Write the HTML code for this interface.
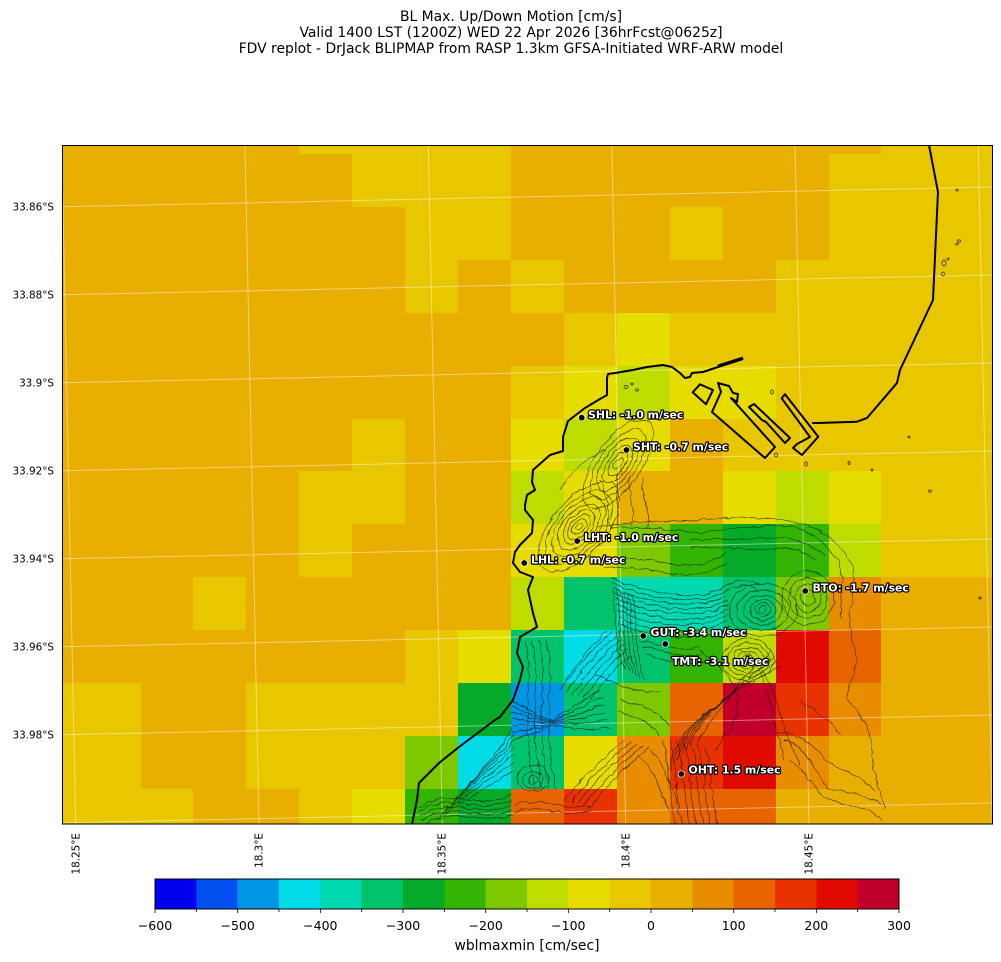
<!DOCTYPE html>
<html><head><meta charset="utf-8"><style>
html,body{margin:0;padding:0;background:#fff;}
svg{display:block;font-family:"DejaVu Sans","Liberation Sans",sans-serif;}
</style></head><body>
<svg width="1001" height="962" viewBox="0 0 1001 962" xmlns="http://www.w3.org/2000/svg">
<rect width="1001" height="962" fill="#fff"/>
<text x="511" y="21" font-size="13.9" text-anchor="middle">BL Max. Up/Down Motion [cm/s]</text>
<text x="511" y="37" font-size="13.9" text-anchor="middle">Valid 1400 LST (1200Z) WED 22 Apr 2026 [36hrFcst@0625z]</text>
<text x="511" y="53" font-size="13.9" text-anchor="middle">FDV replot - DrJack BLIPMAP from RASP 1.3km GFSA-Initiated WRF-ARW model</text>
<defs>
<clipPath id="cp"><rect x="62" y="145" width="930" height="679"/></clipPath>
<filter id="wig" filterUnits="userSpaceOnUse" x="62" y="145" width="930" height="679">
<feTurbulence type="fractalNoise" baseFrequency="0.11" numOctaves="2" seed="5" result="n"/>
<feDisplacementMap in="SourceGraphic" in2="n" scale="5" xChannelSelector="R" yChannelSelector="G"/>
</filter>
</defs>
<g clip-path="url(#cp)">
<g shape-rendering="crispEdges">
<rect x="62" y="145" width="237" height="9" fill="#e8ae00"/><rect x="299" y="145" width="212" height="9" fill="#e8c600"/><rect x="511" y="145" width="370" height="9" fill="#e8ae00"/><rect x="881" y="145" width="111" height="9" fill="#e8c600"/>
<rect x="62" y="154" width="290" height="53" fill="#e8ae00"/><rect x="352" y="154" width="159" height="53" fill="#e8c600"/><rect x="511" y="154" width="318" height="53" fill="#e8ae00"/><rect x="829" y="154" width="163" height="53" fill="#e8c600"/>
<rect x="62" y="207" width="343" height="53" fill="#e8ae00"/><rect x="405" y="207" width="106" height="53" fill="#e8c600"/><rect x="511" y="207" width="159" height="53" fill="#e8ae00"/><rect x="670" y="207" width="53" height="53" fill="#e8c600"/><rect x="723" y="207" width="106" height="53" fill="#e8ae00"/><rect x="829" y="207" width="163" height="53" fill="#e8c600"/>
<rect x="62" y="260" width="343" height="53" fill="#e8ae00"/><rect x="405" y="260" width="53" height="53" fill="#e8c600"/><rect x="458" y="260" width="53" height="53" fill="#e8ae00"/><rect x="511" y="260" width="53" height="53" fill="#e8c600"/><rect x="564" y="260" width="212" height="53" fill="#e8ae00"/><rect x="776" y="260" width="216" height="53" fill="#e8c600"/>
<rect x="62" y="313" width="502" height="53" fill="#e8ae00"/><rect x="564" y="313" width="53" height="53" fill="#e8c600"/><rect x="617" y="313" width="53" height="53" fill="#e6dc00"/><rect x="670" y="313" width="322" height="53" fill="#e8c600"/>
<rect x="62" y="366" width="449" height="53" fill="#e8ae00"/><rect x="511" y="366" width="53" height="53" fill="#e8c600"/><rect x="564" y="366" width="53" height="53" fill="#e6dc00"/><rect x="617" y="366" width="53" height="53" fill="#bedc00"/><rect x="670" y="366" width="106" height="53" fill="#e6dc00"/><rect x="776" y="366" width="216" height="53" fill="#e8c600"/>
<rect x="62" y="419" width="290" height="52" fill="#e8ae00"/><rect x="352" y="419" width="53" height="52" fill="#e8c600"/><rect x="405" y="419" width="106" height="52" fill="#e8ae00"/><rect x="511" y="419" width="53" height="52" fill="#e6dc00"/><rect x="564" y="419" width="53" height="52" fill="#bedc00"/><rect x="617" y="419" width="53" height="52" fill="#e6dc00"/><rect x="670" y="419" width="53" height="52" fill="#e8ae00"/><rect x="723" y="419" width="269" height="52" fill="#e8c600"/>
<rect x="62" y="471" width="237" height="53" fill="#e8ae00"/><rect x="299" y="471" width="106" height="53" fill="#e8c600"/><rect x="405" y="471" width="106" height="53" fill="#e8ae00"/><rect x="511" y="471" width="53" height="53" fill="#bedc00"/><rect x="564" y="471" width="53" height="53" fill="#e6dc00"/><rect x="617" y="471" width="106" height="53" fill="#e8ae00"/><rect x="723" y="471" width="53" height="53" fill="#e6dc00"/><rect x="776" y="471" width="53" height="53" fill="#bedc00"/><rect x="829" y="471" width="52" height="53" fill="#e6dc00"/><rect x="881" y="471" width="111" height="53" fill="#e8c600"/>
<rect x="62" y="524" width="237" height="53" fill="#e8ae00"/><rect x="299" y="524" width="53" height="53" fill="#e8c600"/><rect x="352" y="524" width="159" height="53" fill="#e8ae00"/><rect x="511" y="524" width="106" height="53" fill="#e6dc00"/><rect x="617" y="524" width="53" height="53" fill="#7dc800"/><rect x="670" y="524" width="53" height="53" fill="#32b400"/><rect x="723" y="524" width="53" height="53" fill="#05aa28"/><rect x="776" y="524" width="53" height="53" fill="#32b400"/><rect x="829" y="524" width="52" height="53" fill="#bedc00"/><rect x="881" y="524" width="111" height="53" fill="#e8c600"/>
<rect x="62" y="577" width="131" height="53" fill="#e8ae00"/><rect x="193" y="577" width="53" height="53" fill="#e8c600"/><rect x="246" y="577" width="265" height="53" fill="#e8ae00"/><rect x="511" y="577" width="53" height="53" fill="#bedc00"/><rect x="564" y="577" width="53" height="53" fill="#00c36b"/><rect x="617" y="577" width="106" height="53" fill="#00d8b0"/><rect x="723" y="577" width="53" height="53" fill="#00c36b"/><rect x="776" y="577" width="53" height="53" fill="#7dc800"/><rect x="829" y="577" width="52" height="53" fill="#e88c00"/><rect x="881" y="577" width="111" height="53" fill="#e8ae00"/>
<rect x="62" y="630" width="343" height="53" fill="#e8ae00"/><rect x="405" y="630" width="53" height="53" fill="#e8c600"/><rect x="458" y="630" width="53" height="53" fill="#e6dc00"/><rect x="511" y="630" width="53" height="53" fill="#00c36b"/><rect x="564" y="630" width="53" height="53" fill="#00dce6"/><rect x="617" y="630" width="53" height="53" fill="#00c36b"/><rect x="670" y="630" width="53" height="53" fill="#32b400"/><rect x="723" y="630" width="53" height="53" fill="#bedc00"/><rect x="776" y="630" width="53" height="53" fill="#e00a00"/><rect x="829" y="630" width="52" height="53" fill="#e86400"/><rect x="881" y="630" width="111" height="53" fill="#e8ae00"/>
<rect x="62" y="683" width="79" height="53" fill="#e8c600"/><rect x="141" y="683" width="105" height="53" fill="#e8ae00"/><rect x="246" y="683" width="212" height="53" fill="#e8c600"/><rect x="458" y="683" width="53" height="53" fill="#05aa28"/><rect x="511" y="683" width="53" height="53" fill="#0096e6"/><rect x="564" y="683" width="53" height="53" fill="#00c36b"/><rect x="617" y="683" width="53" height="53" fill="#7dc800"/><rect x="670" y="683" width="53" height="53" fill="#e86400"/><rect x="723" y="683" width="53" height="53" fill="#c00028"/><rect x="776" y="683" width="53" height="53" fill="#e83200"/><rect x="829" y="683" width="52" height="53" fill="#e88c00"/><rect x="881" y="683" width="111" height="53" fill="#e8ae00"/>
<rect x="62" y="736" width="79" height="53" fill="#e8c600"/><rect x="141" y="736" width="105" height="53" fill="#e8ae00"/><rect x="246" y="736" width="159" height="53" fill="#e8c600"/><rect x="405" y="736" width="53" height="53" fill="#7dc800"/><rect x="458" y="736" width="53" height="53" fill="#00dce6"/><rect x="511" y="736" width="53" height="53" fill="#00c36b"/><rect x="564" y="736" width="53" height="53" fill="#e6dc00"/><rect x="617" y="736" width="53" height="53" fill="#e88c00"/><rect x="670" y="736" width="53" height="53" fill="#e83200"/><rect x="723" y="736" width="53" height="53" fill="#e00a00"/><rect x="776" y="736" width="53" height="53" fill="#e88c00"/><rect x="829" y="736" width="163" height="53" fill="#e8ae00"/>
<rect x="62" y="789" width="131" height="35" fill="#e8c600"/><rect x="193" y="789" width="106" height="35" fill="#e8ae00"/><rect x="299" y="789" width="53" height="35" fill="#e8c600"/><rect x="352" y="789" width="53" height="35" fill="#e6dc00"/><rect x="405" y="789" width="53" height="35" fill="#32b400"/><rect x="458" y="789" width="53" height="35" fill="#05aa28"/><rect x="511" y="789" width="53" height="35" fill="#e86400"/><rect x="564" y="789" width="53" height="35" fill="#e83200"/><rect x="617" y="789" width="53" height="35" fill="#e88c00"/><rect x="670" y="789" width="106" height="35" fill="#e86400"/><rect x="776" y="789" width="216" height="35" fill="#e8ae00"/>
</g>
<g stroke="#ffffff" stroke-opacity="0.45" stroke-width="1" fill="none">
<line x1="62" y1="118.8" x2="992" y2="99"/>
<line x1="62" y1="206.8" x2="992" y2="187"/>
<line x1="62" y1="294.8" x2="992" y2="275"/>
<line x1="62" y1="382.8" x2="992" y2="363"/>
<line x1="62" y1="470.8" x2="992" y2="451"/>
<line x1="62" y1="558.8" x2="992" y2="539"/>
<line x1="62" y1="646.8" x2="992" y2="627"/>
<line x1="62" y1="734.8" x2="992" y2="715"/>
<line x1="62" y1="822.8" x2="992" y2="803"/>
<line x1="61.7" y1="145" x2="75.7" y2="824"/>
<line x1="245" y1="145" x2="259" y2="824"/>
<line x1="428.3" y1="145" x2="442.3" y2="824"/>
<line x1="611.7" y1="145" x2="625.7" y2="824"/>
<line x1="795" y1="145" x2="809" y2="824"/>
<line x1="978.3" y1="145" x2="992.3" y2="824"/>
</g>
<g filter="url(#wig)">
<g fill="none" stroke="#1c1c1c" stroke-width="0.75" stroke-opacity="0.72">
<g transform="translate(579,527) rotate(-50)">
<ellipse rx="4" ry="3"/><ellipse rx="9" ry="6"/><ellipse rx="14" ry="9"/><ellipse rx="20" ry="12"/><ellipse rx="27" ry="15.5"/><ellipse rx="35" ry="19"/><ellipse rx="44" ry="23"/><ellipse rx="54" ry="27"/>
</g>
<g transform="translate(618,464) rotate(-55)">
<ellipse rx="7" ry="4"/><ellipse rx="14" ry="7"/><ellipse rx="22" ry="10"/><ellipse rx="31" ry="14"/><ellipse rx="41" ry="18"/><ellipse rx="52" ry="23"/>
</g>
<path d="M598,527 C630,522 660,520 690,521 C720,518 745,516 770,519 C800,520 820,528 835,542 C852,556 858,575 852,600 C846,620 852,640 856,655 C858,675 845,690 848,700 C860,712 872,730 872,755 C874,780 882,795 885,810"/>
<path d="M610,528 C640,526 680,530 700,533 C730,530 760,524 790,526 C810,530 826,545 838,560 C846,580 838,600 842,620"/>
<path d="M617,473 C615,490 620,510 617,524"/>
<path d="M643,477 C640,495 650,510 647,527"/>
<path d="M630,476 C626,495 636,512 632,526"/>
<path d="M612,578 C640,592 700,602 722,588 C735,578 748,578 760,585"/>
<path d="M613,583 C640,597 700,607 724,592 C736,584 748,584 758,590"/>
<path d="M614,588 C640,602 700,612 726,596"/>
<path d="M615,593 C640,607 700,617 728,600"/>
<path d="M616,598 C640,612 700,622 728,604"/>
<path d="M617,604 C640,618 700,628 728,609"/>
<path d="M618,610 C640,624 700,633 728,614"/>
<path d="M619,617 C640,630 700,639 728,620"/>
<path d="M620,624 C645,636 700,645 730,626"/>
<path d="M600,560 C620,555 650,560 680,565 C700,568 715,560 725,552"/>
<path d="M605,568 C625,565 655,572 685,575 C705,575 718,570 728,562"/>
<path d="M690,548 C710,545 740,550 770,548 C790,546 805,552 815,560"/>
<path d="M690,540 C715,538 745,540 775,538 C795,538 815,545 825,556"/>
<g transform="translate(763,610)">
<ellipse rx="4" ry="3"/><ellipse rx="8" ry="6.5"/><ellipse rx="13" ry="10.5"/><ellipse rx="19" ry="15"/><ellipse rx="26" ry="20"/><ellipse rx="34" ry="26"/>
</g>
<g transform="translate(808,598)">
<ellipse rx="7" ry="8"/><ellipse rx="13" ry="14"/><ellipse rx="19" ry="20"/><ellipse rx="26" ry="27"/>
</g>
<g transform="translate(748,660)">
<ellipse rx="6" ry="5"/><ellipse rx="11" ry="9"/><ellipse rx="16" ry="13"/><ellipse rx="21" ry="17"/><ellipse rx="26" ry="21"/>
</g>
<path d="M613,590 C618,620 612,645 625,670"/>
<path d="M617,590 C622,620 616,645 629,672"/>
<path d="M621,590 C626,620 620,645 633,674"/>
<path d="M625,592 C630,620 624,645 637,676"/>
<path d="M629,594 C634,620 628,645 641,678"/>
<path d="M633,596 C638,620 632,645 645,680"/>
<path d="M640,640 C660,645 680,652 700,648"/>
<path d="M642,646 C662,652 682,658 702,655"/>
<path d="M645,654 C665,660 685,665 705,662"/>
<path d="M731,694 C720,705 700,720 690,745"/>
<path d="M731,694 C716,708 695,722 686,750"/>
<path d="M731,694 C712,711 690,724 682,755"/>
<path d="M731,694 C708,714 685,726 678,760"/>
<path d="M731,694 C704,717 680,728 674,765"/>
<path d="M731,694 C700,720 675,730 670,770"/>
<path d="M731,694 C724,708 708,724 696,742"/>
<path d="M731,694 C745,680 760,670 775,655"/>
<path d="M731,694 C748,682 763,672 778,660"/>
<path d="M731,694 C751,684 766,675 781,665"/>
<path d="M731,694 C742,678 756,667 772,650"/>
<path d="M700,650 C720,665 735,680 738,700 C740,720 725,735 715,750"/>
<path d="M740,648 C755,660 765,680 770,700 C775,720 778,740 785,760"/>
<path d="M748,652 C762,666 772,686 778,705 C783,725 790,745 800,765"/>
<path d="M662,740 C672,765 666,790 676,824"/>
<path d="M669,740 C679,765 673,790 683,824"/>
<path d="M676,740 C686,765 680,790 690,824"/>
<path d="M683,740 C693,765 687,790 697,824"/>
<path d="M690,742 C700,765 694,790 704,824"/>
<path d="M697,744 C707,767 701,790 711,824"/>
<path d="M704,746 C714,769 708,790 718,824"/>
<path d="M650,750 C665,765 670,785 680,805"/>
<path d="M640,756 C655,770 660,790 668,810"/>
<path d="M525,640 C535,680 520,720 535,790"/>
<path d="M532,640 C542,680 527,720 542,790"/>
<path d="M539,640 C549,680 534,720 549,790"/>
<path d="M546,640 C556,680 541,720 556,790"/>
<path d="M560,690 C575,670 590,650 612,632"/>
<path d="M566,692 C581,672 596,652 616,636"/>
<path d="M572,694 C587,674 602,654 620,640"/>
<path d="M578,696 C593,676 608,656 624,645"/>
<path d="M584,698 C599,678 612,660 628,650"/>
<path d="M590,700 C603,682 616,666 630,656"/>
<path d="M566,680 C578,662 592,645 606,632"/>
<path d="M512,700 Q535,715 553,720 Q575,705 600,690"/>
<path d="M512,706 Q535,718 553,721 Q577,710 602,697"/>
<path d="M512,712 Q535,720 553,722 Q579,715 604,704"/>
<path d="M512,718 Q535,723 553,723 Q580,720 606,712"/>
<path d="M512,725 Q535,726 553,724 Q581,725 608,720"/>
<path d="M512,732 Q535,729 553,725 Q582,731 610,728"/>
<path d="M514,740 Q535,732 553,726"/>
<path d="M450,805 C470,785 490,770 514,748"/>
<path d="M455,800 C473,780 493,765 514,741"/>
<path d="M460,795 C476,775 496,760 514,734"/>
<path d="M465,790 C480,770 498,755 512,728"/>
<path d="M445,810 C467,790 488,776 514,755"/>
<path d="M440,815 C464,796 486,782 514,762"/>
<path d="M436,820 C460,802 484,790 514,770"/>
<path d="M418,808 C450,785 480,812 512,795"/>
<path d="M418,812 C450,790 480,816 512,800"/>
<path d="M420,816 C452,795 482,820 512,805"/>
<path d="M422,820 C454,800 484,824 512,810"/>
<path d="M425,824 C456,806 486,826 512,815"/>
<path d="M515,805 C540,795 560,812 590,805"/>
<path d="M515,812 C540,802 560,818 592,812"/>
<ellipse cx="533" cy="780" rx="5" ry="4"/><ellipse cx="533" cy="780" rx="10" ry="8"/><ellipse cx="533" cy="778" rx="16" ry="13"/>
<path d="M565,800 C585,775 600,760 625,740"/>
<path d="M571,802 C591,777 606,762 631,742"/>
<path d="M577,804 C597,779 612,764 637,744"/>
<path d="M583,806 C603,781 618,766 643,746"/>
<path d="M589,808 C609,783 624,768 649,748"/>
<path d="M600,480 C612,500 604,515 612,528"/>
<path d="M560,490 C572,470 590,455 605,450"/>
<path d="M783,740 C800,743 815,765 826,788 C845,793 866,792 880,805"/>
<path d="M790,760 C805,770 812,790 830,800 C850,805 870,808 882,820"/>
<path d="M776,733 C795,730 815,745 826,760 C840,770 860,775 875,790"/>
<path d="M800,700 C815,710 830,720 840,735"/>
<path d="M620,700 C640,705 660,712 668,725"/>
<path d="M618,712 C636,716 652,724 660,735"/>
<path d="M595,675 C620,686 640,694 660,692"/>
</g>
</g>
<g fill="none" stroke="#222" stroke-width="0.7">
<ellipse cx="957" cy="190" rx="1.2" ry="1"/><ellipse cx="959" cy="241" rx="1.5" ry="1.2"/><ellipse cx="957" cy="244" rx="1.2" ry="1"/><ellipse cx="944" cy="263" rx="2" ry="3"/><ellipse cx="948" cy="259" rx="1" ry="1"/><ellipse cx="943" cy="274" rx="1.5" ry="2"/>
<ellipse cx="909" cy="437" rx="1" ry="1"/><ellipse cx="872" cy="470" rx="1" ry="1"/><ellipse cx="849" cy="463" rx="1" ry="1.5"/><ellipse cx="980" cy="598" rx="1.2" ry="1"/><ellipse cx="930" cy="491" rx="1.5" ry="1.2"/>
<ellipse cx="626" cy="387" rx="2" ry="1.5"/><ellipse cx="637" cy="390" rx="1.5" ry="1.2"/><ellipse cx="632" cy="384" rx="1.2" ry="1"/><ellipse cx="806" cy="464" rx="1.5" ry="2"/><ellipse cx="776" cy="455" rx="1.5" ry="2"/><ellipse cx="772" cy="392" rx="1.5" ry="2"/>
</g>
<g fill="none" stroke="#000" stroke-width="2" stroke-linejoin="round">
<path d="M929,145 L938,192 L933,300 L900,370 L897,383 L867,418 L857,421.7 L818,423 L812,423"/>
<path d="M781.7,398.3 L785,394.3 L818.3,436.7 L802,455 L793,448 L797,444 L810,437 Z"/>
<path d="M743,359 L718,367 L703,372 L692,373 L690,377 L685,378 L680,373 L672,367 L663,365 L647,367 L633,370 L615,373 L608,374 L607,378 L607,395 L600,399 L585,408 L568,421 L563,437 L563,451 L550,455 L533,470 L532,482 L535,490 L527,495 L525,505 L525,510 L533,520 L532,533 L520,545 L515,552 L513,563 L520,572 L533,577 L528,590 L533,613 L537,627 L520,637 L517,653 L523,667 L520,680 L513,700 L500,717 L495,720 L459,747 L439,763 L419,783 L417,800 L412,824"/>
<path d="M718,366 L743,358" stroke-width="3"/>
<path d="M692.7,392.3 L700,384.3 L713,390 L706,404.3 Z"/>
<path d="M718,383 L729,386 L733,393 L738,394 L737,402 L731,398 L775,447 L765,458 L712,412 L721,392 Z"/>
<path d="M749,407 L754,404 L790,438 L785,443 L766,422 L762,420 Z"/>
</g>
<g fill="#000" stroke="#fff" stroke-width="0.6">
<circle cx="581.7" cy="417.7" r="3.2"/>
<circle cx="626.5" cy="450" r="3.2"/>
<circle cx="577.3" cy="541" r="3.2"/>
<circle cx="524.3" cy="563" r="3.2"/>
<circle cx="805.3" cy="591" r="3.2"/>
<circle cx="643.3" cy="636" r="3.2"/>
<circle cx="665.3" cy="644" r="3.2"/>
<circle cx="681.3" cy="774" r="3.2"/>
</g>
<g font-size="10.9" font-weight="bold" fill="#fff" stroke="#000" stroke-width="2.4" stroke-linejoin="round" paint-order="stroke">
<text x="588" y="418.3">SHL: -1.0 m/sec</text>
<text x="633" y="450.5">SHT: -0.7 m/sec</text>
<text x="584" y="541">LHT: -1.0 m/sec</text>
<text x="531" y="563.5">LHL: -0.7 m/sec</text>
<text x="812.5" y="591.5">BTO: -1.7 m/sec</text>
<text x="650.5" y="636">GUT: -3.4 m/sec</text>
<text x="672" y="665">TMT: -3.1 m/sec</text>
<text x="688.5" y="773.5">OHT: 1.5 m/sec</text>
</g>
</g>
<rect x="62.5" y="145.5" width="930" height="678.5" fill="none" stroke="#000" stroke-width="1"/>
<g font-size="10.4" text-anchor="end" fill="#000">
<text x="54" y="210.6">33.86°S</text>
<text x="54" y="298.6">33.88°S</text>
<text x="54" y="386.6">33.9°S</text>
<text x="54" y="474.6">33.92°S</text>
<text x="54" y="562.6">33.94°S</text>
<text x="54" y="650.6">33.96°S</text>
<text x="54" y="738.6">33.98°S</text>
</g>
<g font-size="10.4" text-anchor="end" fill="#000">
<text transform="translate(76,833) rotate(-90)" dy="0.35em">18.25°E</text>
<text transform="translate(259,833) rotate(-90)" dy="0.35em">18.3°E</text>
<text transform="translate(442,833) rotate(-90)" dy="0.35em">18.35°E</text>
<text transform="translate(626,833) rotate(-90)" dy="0.35em">18.4°E</text>
<text transform="translate(809,833) rotate(-90)" dy="0.35em">18.45°E</text>
</g>
<g shape-rendering="crispEdges">
<rect x="155" y="879" width="41.4" height="30" fill="#0000ef"/>
<rect x="196.33" y="879" width="41.4" height="30" fill="#0050ef"/>
<rect x="237.67" y="879" width="41.4" height="30" fill="#0096e6"/>
<rect x="279" y="879" width="41.4" height="30" fill="#00dce6"/>
<rect x="320.33" y="879" width="41.4" height="30" fill="#00d8b0"/>
<rect x="361.67" y="879" width="41.4" height="30" fill="#00c36b"/>
<rect x="403" y="879" width="41.4" height="30" fill="#05aa28"/>
<rect x="444.33" y="879" width="41.4" height="30" fill="#32b400"/>
<rect x="485.67" y="879" width="41.4" height="30" fill="#7dc800"/>
<rect x="527" y="879" width="41.4" height="30" fill="#bedc00"/>
<rect x="568.33" y="879" width="41.4" height="30" fill="#e6dc00"/>
<rect x="609.67" y="879" width="41.4" height="30" fill="#e8c600"/>
<rect x="651" y="879" width="41.4" height="30" fill="#e8ae00"/>
<rect x="692.33" y="879" width="41.4" height="30" fill="#e88c00"/>
<rect x="733.67" y="879" width="41.4" height="30" fill="#e86400"/>
<rect x="775" y="879" width="41.4" height="30" fill="#e83200"/>
<rect x="816.33" y="879" width="41.4" height="30" fill="#e00a00"/>
<rect x="857.67" y="879" width="41.33" height="30" fill="#c00028"/>
</g>
<rect x="155" y="879" width="744" height="30" fill="none" stroke="#000" stroke-width="1"/>
<g stroke="#000" stroke-width="0.8">
<line x1="155" y1="909" x2="155" y2="913"/><line x1="196.33" y1="909" x2="196.33" y2="912"/><line x1="237.67" y1="909" x2="237.67" y2="913"/><line x1="279" y1="909" x2="279" y2="912"/><line x1="320.33" y1="909" x2="320.33" y2="913"/><line x1="361.67" y1="909" x2="361.67" y2="912"/><line x1="403" y1="909" x2="403" y2="913"/><line x1="444.33" y1="909" x2="444.33" y2="912"/><line x1="485.67" y1="909" x2="485.67" y2="913"/><line x1="527" y1="909" x2="527" y2="912"/><line x1="568.33" y1="909" x2="568.33" y2="913"/><line x1="609.67" y1="909" x2="609.67" y2="912"/><line x1="651" y1="909" x2="651" y2="913"/><line x1="692.33" y1="909" x2="692.33" y2="912"/><line x1="733.67" y1="909" x2="733.67" y2="913"/><line x1="775" y1="909" x2="775" y2="912"/><line x1="816.33" y1="909" x2="816.33" y2="913"/><line x1="857.67" y1="909" x2="857.67" y2="912"/><line x1="899" y1="909" x2="899" y2="913"/>
</g>
<g font-size="12.5" text-anchor="middle" fill="#000">
<text x="155" y="930">−600</text>
<text x="237.67" y="930">−500</text>
<text x="320.33" y="930">−400</text>
<text x="403" y="930">−300</text>
<text x="485.67" y="930">−200</text>
<text x="568.33" y="930">−100</text>
<text x="651" y="930">0</text>
<text x="733.67" y="930">100</text>
<text x="816.33" y="930">200</text>
<text x="899" y="930">300</text>
</g>
<text x="527" y="950" font-size="13.9" text-anchor="middle" fill="#000">wblmaxmin [cm/sec]</text>
</svg>
</body></html>
